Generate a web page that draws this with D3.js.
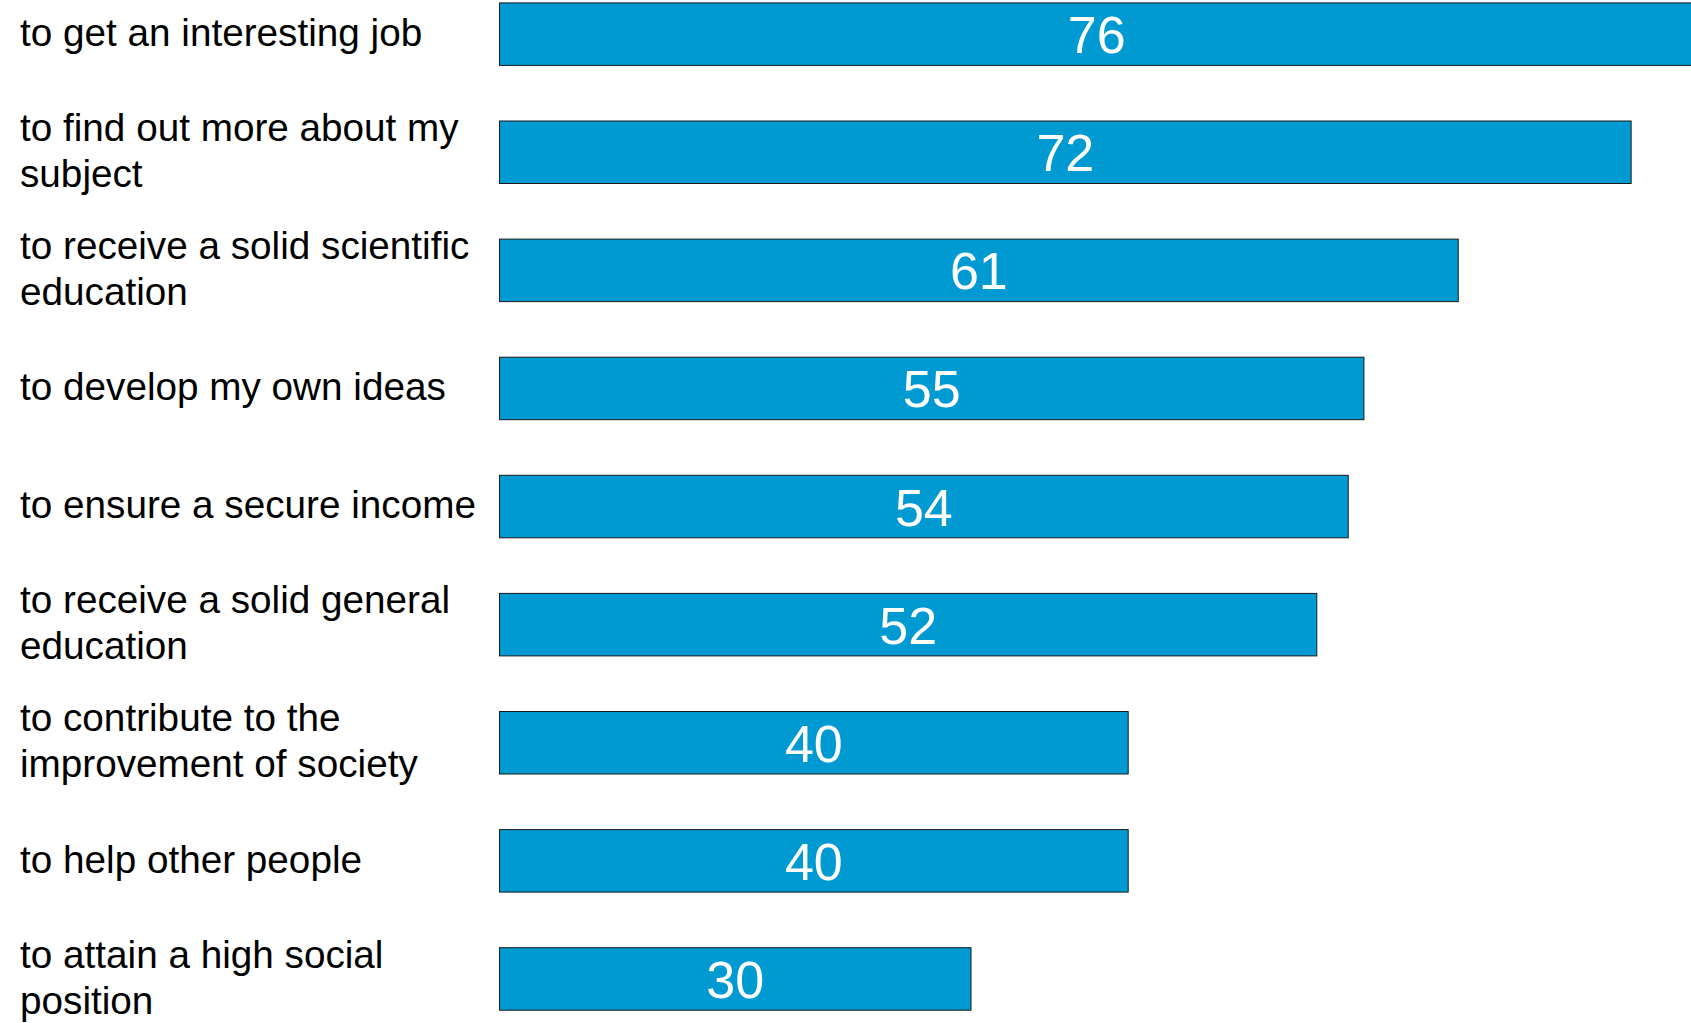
<!DOCTYPE html>
<html>
<head>
<meta charset="utf-8">
<script src="https://cdn.jsdelivr.net/npm/d3@7"></script>
<style>
  body { margin: 0; background: #fff; overflow: hidden; }
</style>
</head>
<body>
<script>
// motives for studying, top to bottom
var motives = [
  "to get an interesting job",
  "to find out more about my subject",
  "to receive a solid scientific education",
  "to develop my own ideas",
  "to ensure a secure income",
  "to receive a solid general education",
  "to contribute to the improvement of society",
  "to help other people",
  "to attain a high social position"
]
// share of students (%)
var shares = [76, 72, 61, 55, 54, 52, 40, 40, 30]

var font = "'Liberation Sans', Arial, Helvetica, sans-serif"

//define svg "screen"
var svg = d3.select("body").append("svg")
    .attr("width", 1691)
    .attr("height", 1023)

// scales (the longest bar runs off the right edge, as in the original slide)
var x = d3.scaleLinear()
    .domain([0, 76])
    .range([499.5, 1694])
var y = d3.scaleBand()
    .domain(motives)
    .range([2.9, 1010.2])
    .paddingInner(0.4708)
    .paddingOuter(0)

var gBars = svg.append("g").attr("class", "bars"),
    gValues = svg.append("g").attr("class", "values"),
    gLabels = svg.append("g").attr("class", "labels")

// bars
gBars.selectAll("rect")
  .data(motives)
  .enter()
  .append("rect")
    .attr("x", x(0))
    .attr("y", (d) => y(d))
    .attr("width", (d, i) => x(shares[i]) - x(0))
    .attr("height", y.bandwidth())
    .style("fill", "#009ad2")
    .style("stroke", "#1a1a1a")
    .style("stroke-width", 1)

// numbers inside the bars
gValues.selectAll("text")
  .data(motives)
  .enter()
  .append("text")
    .attr("x", (d, i) => x(shares[i] / 2))
    .attr("y", (d) => y(d) + y.bandwidth() / 2 + 19)
    .attr("text-anchor", "middle")
    .attr("font-family", font)
    .attr("font-size", "52px")
    .attr("fill", "white")
    .text((d, i) => shares[i])

// category labels, wrapped on two lines when too long
gLabels.selectAll("text")
  .data(motives)
  .enter()
  .append("text")
    .attr("font-family", font)
    .attr("font-size", "38.7px")
    .attr("fill", "black")
    .each(function (d) {
      var text = d3.select(this),
          words = d.split(" "),
          line = [],
          lines = []
      var probe = text.append("tspan")
      words.forEach(function (w) {
        line.push(w)
        probe.text(line.join(" "))
        if (probe.node().getComputedTextLength() > 470 && line.length > 1) {
          line.pop()
          lines.push(line.join(" "))
          line = [w]
        }
      })
      lines.push(line.join(" "))
      probe.remove()
      var mid = y(d) + y.bandwidth() / 2
      lines.forEach(function (l, k) {
        text.append("tspan")
          .attr("x", 20)
          .attr("y", mid + 11.7 - (lines.length - 1) * 23.1 + k * 46)
          .text(l)
      })
    })
</script>
</body>
</html>
